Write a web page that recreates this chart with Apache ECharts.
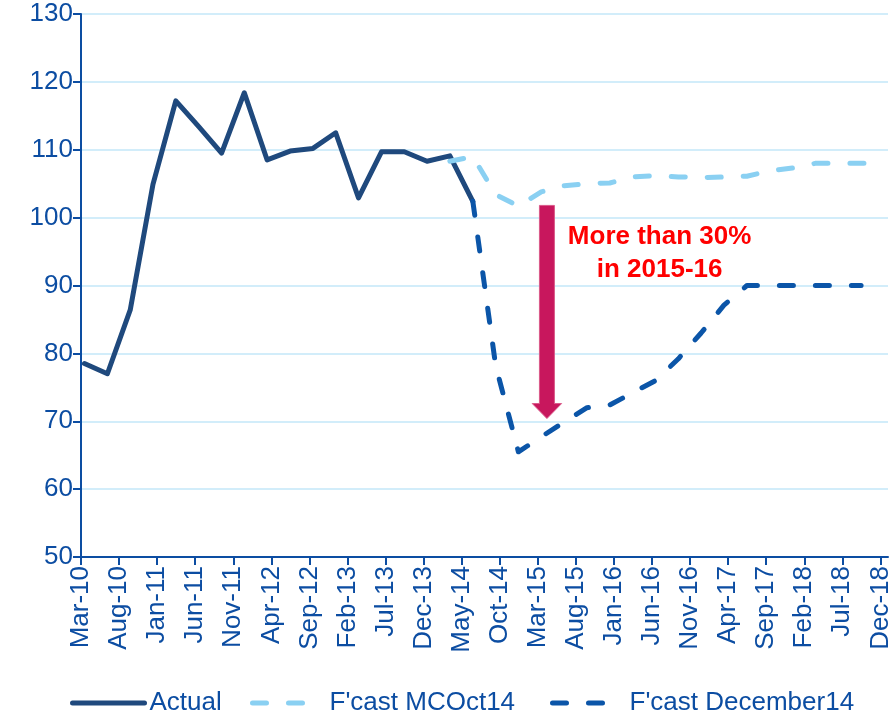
<!DOCTYPE html>
<html>
<head>
<meta charset="utf-8">
<script src="https://cdn.jsdelivr.net/npm/echarts@6/dist/echarts.min.js"></script>
<style>
html,body{margin:0;padding:0;background:#fff;}
#chart{width:895px;height:714px;}
</style>
</head>
<body>
<div id="chart"></div>
<script>
// ---- data ----
const quarterDates = ['2010-03-15','2010-06-15','2010-09-15','2010-12-15','2011-03-15','2011-06-15','2011-09-15','2011-12-15',
  '2012-03-15','2012-06-15','2012-09-15','2012-12-15','2013-03-15','2013-06-15','2013-09-15','2013-12-15',
  '2014-03-15','2014-06-15','2014-09-15','2014-12-15','2015-03-15','2015-06-15','2015-09-15','2015-12-15',
  '2016-03-15','2016-06-15','2016-09-15','2016-12-15','2017-03-15','2017-06-15','2017-09-15','2017-12-15',
  '2018-03-15','2018-06-15','2018-09-15','2018-12-15'];
const actualDates = quarterDates.slice(0, 18);
const actual = [78.5, 77.0, 86.4, 104.9, 117.2, 113.4, 109.5, 118.4, 108.5, 109.8, 110.2, 112.5, 102.9, 109.7, 109.7, 108.3, 109.1, 102.4];
const mcOct14Dates = quarterDates.slice(16, 36);
const mcOct14 = [108.3, 109.0, 103.4, 101.7, 103.8, 104.7, 105.0, 105.1, 106.0, 106.2, 106.0, 105.9, 106.0, 106.1, 106.9, 107.3, 108.0, 108.0, 108.0, 108.0];
const dec14Dates = quarterDates.slice(17, 35);
const dec14 = [102.4, 78.2, 65.5, 67.7, 69.9, 72.0, 72.4, 74.2, 76.0, 79.2, 83.0, 87.1, 90.0, 90.0, 90.0, 90.0, 90.0, 90.0];
const tickLabels = ['Mar-10','Aug-10','Jan-11','Jun-11','Nov-11','Apr-12','Sep-12','Feb-13','Jul-13','Dec-13','May-14',
  'Oct-14','Mar-15','Aug-15','Jan-16','Jun-16','Nov-16','Apr-17','Sep-17','Feb-18','Jul-18','Dec-18'];
const yTicks = [50, 60, 70, 80, 90, 100, 110, 120, 130];
const axisStart = '2010-03-01';
const axisEnd = '2019-01-01';
const seriesNames = ['Actual', "F'cast MCOct14", "F'cast December14"];
// annotation
const arrowDate = '2015-04-07';
const arrowTopValue = 101.8;
const arrowTipValue = 70.4;
const noteDate = '2016-07-01';
const noteValue = 94.7;
const noteText = 'More than 30%\nin 2015-16';

// ---- helpers ----
const MON = {Jan:1,Feb:2,Mar:3,Apr:4,May:5,Jun:6,Jul:7,Aug:8,Sep:9,Oct:10,Nov:11,Dec:12};
function toMonths(s){
  const [y,m,d] = s.split('-').map(Number);
  const dim = new Date(y, m, 0).getDate();
  return (y-2010)*12 + (m-3) + (d-1)/dim;
}
function labelToMonths(l){
  const [mn, yy] = l.split('-');
  return (2000 + Number(yy) - 2010)*12 + (MON[mn]-3);
}
const tickValues = tickLabels.map(labelToMonths);
const pair = (dates, vals) => dates.map((d,i)=>[toMonths(d), vals[i]]);

const blue = '#0C4DA2';
const font = 'Liberation Sans, Arial, sans-serif';
const dash = [14, 22];

const chart = echarts.init(document.getElementById('chart'), null, {renderer:'canvas'});
const legendCommon = {
  top: 690, itemWidth: 72, itemHeight: 26, itemGap: 0, padding: 0,
  textStyle: {color: blue, fontSize: 26, fontFamily: font},
  itemStyle: {opacity: 0},
  selectedMode: false
};
chart.setOption({
  animation: false,
  backgroundColor: '#ffffff',
  grid: {left: 81, top: 14, width: 807, height: 543, containLabel: false},
  xAxis: {
    type: 'value', min: toMonths(axisStart), max: toMonths(axisEnd),
    axisLine: {show: true, lineStyle: {color: blue, width: 2}},
    axisTick: {show: true, length: 8, lineStyle: {color: blue, width: 2}, customValues: tickValues},
    axisLabel: {
      customValues: tickValues, rotate: 90, margin: 9,
      color: blue, fontSize: 26, fontFamily: font,
      formatter: v => tickLabels[tickValues.indexOf(v)] || ''
    },
    splitLine: {show: false}
  },
  yAxis: {
    type: 'value', min: yTicks[0], max: yTicks[yTicks.length-1], interval: 10,
    axisLine: {show: true, lineStyle: {color: blue, width: 2}},
    axisTick: {show: true, length: 8, lineStyle: {color: blue, width: 2}},
    axisLabel: {color: blue, fontSize: 26, fontFamily: font, margin: 8},
    splitLine: {show: true, lineStyle: {color: '#C3E7F8', width: 1.5}}
  },
  legend: [
    Object.assign({}, legendCommon, {left: 70, data: [seriesNames[0]], lineStyle: {width: 5, color: '#1F497D'}}),
    Object.assign({}, legendCommon, {left: 250, data: [seriesNames[1]], lineStyle: {width: 5, color: '#8AD0F2', type: dash, cap: 'round'}}),
    Object.assign({}, legendCommon, {left: 550, data: [seriesNames[2]], lineStyle: {width: 5, color: '#0B55A8', type: dash, cap: 'round'}})
  ],
  series: [
    {
      name: seriesNames[0], type: 'line', data: pair(actualDates, actual),
      symbol: 'none', z: 2,
      lineStyle: {color: '#1F497D', width: 5, join: 'round', cap: 'round'},
      itemStyle: {color: '#1F497D'}
    },
    {
      name: seriesNames[1], type: 'line', data: pair(mcOct14Dates, mcOct14),
      symbol: 'none', z: 3,
      lineStyle: {color: '#8AD0F2', width: 5, type: dash, cap: 'round', join: 'round'},
      itemStyle: {color: '#8AD0F2'}
    },
    {
      name: seriesNames[2], type: 'line', data: pair(dec14Dates, dec14),
      symbol: 'none', z: 4,
      lineStyle: {color: '#0B55A8', width: 5, type: dash, cap: 'round', join: 'round'},
      itemStyle: {color: '#0B55A8'}
    },
    {
      name: 'arrow', type: 'custom', silent: true, z: 6,
      encode: {x: 0, y: [1, 2]},
      data: [[toMonths(arrowDate), arrowTopValue, arrowTipValue]],
      renderItem: function(params, api){
        const x = api.value(0);
        const top = api.coord([x, api.value(1)]);
        const tip = api.coord([x, api.value(2)]);
        const cx = top[0], sw = 7.5, hw = 14.7, hh = 15;
        return {
          type: 'polygon',
          shape: {points: [[cx-sw, top[1]],[cx+sw, top[1]],[cx+sw, tip[1]-hh],[cx+hw, tip[1]-hh],[cx, tip[1]],[cx-hw, tip[1]-hh],[cx-sw, tip[1]-hh]]},
          style: {fill: '#C8175D', stroke: '#DA5A8A', lineWidth: 1}
        };
      }
    },
    {
      name: 'note', type: 'custom', silent: true, z: 6,
      encode: {x: 0, y: 1},
      data: [[toMonths(noteDate), noteValue]],
      renderItem: function(params, api){
        const p = api.coord([api.value(0), api.value(1)]);
        return {
          type: 'text', x: p[0], y: p[1],
          style: {text: noteText, fill: '#FF0000', font: 'bold 26px ' + font,
            textAlign: 'center', textVerticalAlign: 'middle', lineHeight: 33}
        };
      }
    }
  ]
});
</script>
</body>
</html>
